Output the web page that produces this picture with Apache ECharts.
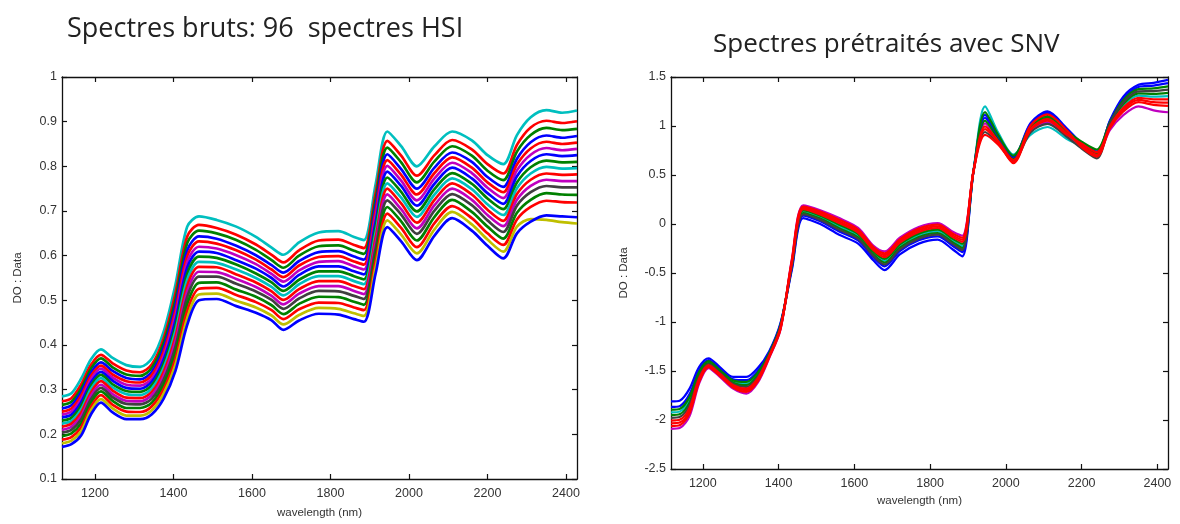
<!DOCTYPE html>
<html>
<head>
<meta charset="utf-8">
<title>Spectres HSI</title>
<script src="https://cdn.jsdelivr.net/npm/echarts@6/dist/echarts.min.js"></script>
<style>
  html, body { margin: 0; padding: 0; background: #fff; }
  #chart { width: 1180px; height: 524px; }
</style>
</head>
<body>
<div id="chart"></div>
<script>
const wavelengths = [1116, 1140, 1165, 1190, 1215, 1245, 1280, 1315, 1345, 1375, 1405, 1435, 1465, 1510, 1560, 1610, 1650, 1680, 1720, 1770, 1820, 1860, 1885, 1915, 1945, 1980, 2020, 2065, 2110, 2160, 2200, 2240, 2275, 2310, 2350, 2390, 2428];
const xTicks = [1200, 1400, 1600, 1800, 2000, 2200, 2400];

// raw spectra (DO), top of the band to bottom
const raw01 = [.285, .292, .325, .368, .390, .371, .355, .351, .370, .430, .535, .665, .688, .680, .665, .642, .618, .602, .630, .652, .655, .642, .635, .760, .878, .845, .800, .845, .878, .858, .825, .805, .870, .910, .926, .920, .925];
const raw02 = [.274, .281, .312, .356, .378, .359, .343, .339, .357, .415, .516, .643, .669, .662, .647, .625, .602, .585, .612, .634, .636, .624, .617, .740, .857, .824, .779, .825, .859, .838, .805, .784, .848, .887, .902, .897, .901];
const raw03 = [.266, .273, .303, .347, .370, .350, .334, .331, .349, .405, .502, .628, .656, .650, .635, .613, .590, .573, .600, .621, .623, .611, .604, .726, .842, .809, .764, .811, .845, .824, .790, .769, .833, .870, .886, .881, .884];
const raw04 = [.258, .265, .295, .338, .361, .342, .326, .323, .340, .394, .489, .612, .643, .638, .622, .601, .579, .562, .588, .608, .610, .598, .591, .712, .827, .794, .750, .797, .831, .810, .776, .754, .817, .854, .869, .864, .868];
const raw05 = [.251, .258, .287, .331, .354, .334, .319, .316, .333, .385, .477, .599, .632, .627, .612, .591, .569, .552, .578, .597, .599, .587, .580, .700, .814, .781, .737, .785, .820, .797, .764, .742, .804, .840, .855, .850, .853];
const raw06 = [.244, .251, .279, .324, .347, .327, .311, .309, .325, .376, .466, .586, .620, .616, .601, .581, .559, .542, .567, .586, .588, .576, .569, .688, .801, .768, .724, .773, .808, .785, .752, .729, .791, .826, .841, .836, .839];
const raw07 = [.238, .244, .272, .316, .340, .320, .304, .302, .318, .367, .454, .573, .609, .606, .590, .571, .550, .531, .557, .576, .576, .565, .558, .676, .788, .756, .712, .761, .797, .773, .740, .716, .778, .812, .827, .823, .825];
const raw08 = [.231, .237, .264, .309, .333, .312, .297, .295, .310, .358, .442, .559, .598, .595, .580, .560, .540, .521, .546, .565, .565, .554, .547, .664, .775, .743, .699, .749, .785, .761, .728, .704, .764, .798, .813, .809, .810];
const raw09 = [.224, .230, .256, .302, .326, .305, .290, .288, .303, .349, .431, .546, .586, .584, .569, .550, .530, .511, .536, .554, .554, .543, .536, .652, .762, .730, .687, .737, .773, .749, .715, .691, .751, .784, .799, .795, .796];
const raw10 = [.217, .224, .249, .294, .319, .298, .282, .281, .295, .340, .419, .533, .575, .574, .558, .540, .520, .501, .525, .543, .543, .532, .525, .640, .750, .717, .674, .725, .762, .737, .703, .678, .738, .770, .784, .781, .782];
const raw11 = [.210, .217, .241, .287, .311, .290, .275, .274, .288, .331, .408, .520, .564, .563, .548, .530, .510, .491, .515, .532, .532, .521, .514, .628, .737, .704, .661, .713, .750, .725, .691, .666, .725, .756, .770, .767, .767];
const raw12 = [.204, .210, .234, .279, .304, .283, .268, .267, .280, .322, .396, .507, .553, .553, .537, .520, .501, .481, .504, .521, .520, .510, .503, .616, .724, .692, .649, .701, .738, .713, .679, .653, .712, .742, .756, .753, .753];
const raw13 = [.196, .202, .225, .271, .296, .275, .259, .259, .271, .312, .383, .491, .539, .540, .524, .508, .489, .469, .492, .508, .507, .497, .490, .602, .709, .677, .634, .687, .725, .698, .665, .638, .696, .725, .740, .737, .736];
const raw14 = [.188, .194, .216, .262, .288, .266, .251, .250, .263, .301, .369, .476, .526, .528, .512, .496, .478, .458, .480, .495, .494, .484, .478, .588, .694, .662, .619, .673, .711, .684, .650, .624, .681, .709, .723, .720, .719];
const raw15 = [.180, .186, .207, .254, .279, .258, .242, .242, .254, .291, .356, .460, .513, .515, .499, .484, .466, .446, .467, .483, .481, .471, .465, .574, .679, .647, .605, .659, .698, .670, .636, .609, .665, .682, .680, .675, .672];
const raw16 = [.172, .178, .198, .245, .271, .249, .234, .234, .245, .280, .342, .445, .500, .503, .487, .472, .455, .434, .455, .470, .468, .458, .452, .560, .664, .632, .590, .645, .684, .656, .622, .594, .650, .676, .690, .688, .686];

// SNV pretreated spectra
const snv01 = [-1.81, -1.80, -1.68, -1.46, -1.37, -1.46, -1.56, -1.56, -1.47, -1.30, -1.01, -0.47, 0.06, 0.00, -0.11, -0.20, -0.37, -0.47, -0.31, -0.20, -0.16, -0.26, -0.33, 0.55, 1.084, 0.882, 0.675, 1.018, 1.134, 0.969, 0.812, 0.724, 1.06, 1.30, 1.42, 1.44, 1.47];
const snv02 = [-2.09, -2.08, -1.96, -1.63, -1.47, -1.56, -1.68, -1.73, -1.62, -1.37, -1.08, -0.36, 0.19, 0.14, 0.06, -0.04, -0.22, -0.28, -0.14, -0.03, 0.01, -0.08, -0.12, 0.55, 1.026, 0.858, 0.686, 0.946, 1.038, 0.903, 0.805, 0.715, 0.96, 1.11, 1.20, 1.16, 1.14];
const snv03 = [-1.922, -1.912, -1.792, -1.528, -1.41, -1.50, -1.608, -1.628, -1.53, -1.328, -1.038, -0.415, 0.125, 0.07, -0.025, -0.12, -0.295, -0.375, -0.225, -0.115, -0.075, -0.17, -0.225, 0.56, 1.20, 0.93, 0.708, 0.91, 0.99, 0.87, 0.791, 0.697, 1.01, 1.205, 1.31, 1.30, 1.305];
const snv04 = [-2.062, -2.052, -1.932, -1.613, -1.46, -1.55, -1.668, -1.713, -1.605, -1.363, -1.073, -0.371, 0.177, 0.126, 0.043, -0.056, -0.235, -0.299, -0.157, -0.047, -0.007, -0.098, -0.141, 0.54, 0.968, 0.834, 0.62, 0.958, 1.054, 0.914, 0.819, 0.733, 0.99, 1.167, 1.266, 1.244, 1.239];
const snv05 = [-1.95, -1.94, -1.82, -1.545, -1.42, -1.51, -1.62, -1.645, -1.545, -1.335, -1.045, -0.404, 0.138, 0.084, -0.008, -0.104, -0.28, -0.356, -0.208, -0.098, -0.058, -0.152, -0.204, 0.55, 1.055, 0.87, 0.664, 0.982, 1.086, 0.936, 0.805, 0.715, 1.02, 1.224, 1.332, 1.328, 1.338];
const snv06 = [-2.006, -1.996, -1.876, -1.579, -1.44, -1.53, -1.644, -1.679, -1.575, -1.349, -1.059, -0.382, 0.164, 0.112, 0.026, -0.072, -0.25, -0.318, -0.174, -0.064, -0.024, -0.116, -0.162, 0.55, 0.997, 0.846, 0.653, 0.97, 1.07, 0.925, 0.798, 0.706, 1.00, 1.186, 1.288, 1.272, 1.272];
const snv07 = [-1.866, -1.856, -1.736, -1.494, -1.39, -1.48, -1.584, -1.594, -1.50, -1.314, -1.024, -0.448, 0.086, 0.028, -0.076, -0.168, -0.34, -0.432, -0.276, -0.166, -0.126, -0.224, -0.288, 0.55, 1.113, 0.894, 0.686, 1.03, 1.15, 0.98, 0.826, 0.742, 1.05, 1.281, 1.398, 1.412, 1.437];
const snv08 = [-1.894, -1.884, -1.764, -1.511, -1.40, -1.49, -1.596, -1.611, -1.515, -1.321, -1.031, -0.426, 0.112, 0.056, -0.042, -0.136, -0.31, -0.394, -0.242, -0.132, -0.092, -0.188, -0.246, 0.55, 1.142, 0.906, 0.697, 0.994, 1.102, 0.947, 0.84, 0.76, 1.04, 1.262, 1.376, 1.384, 1.404];
const snv09 = [-1.978, -1.968, -1.848, -1.562, -1.43, -1.52, -1.632, -1.662, -1.56, -1.342, -1.052, -0.437, 0.099, 0.042, -0.059, -0.152, -0.325, -0.413, -0.259, -0.149, -0.109, -0.206, -0.267, 0.55, 0.939, 0.822, 0.642, 0.934, 1.022, 0.892, 0.77, 0.67, 1.03, 1.243, 1.354, 1.356, 1.371];
const snv10 = [-2.034, -2.024, -1.904, -1.596, -1.45, -1.54, -1.656, -1.696, -1.59, -1.356, -1.066, -0.393, 0.151, 0.098, 0.009, -0.088, -0.265, -0.337, -0.191, -0.081, -0.041, -0.134, -0.183, 0.55, 0.91, 0.81, 0.631, 1.006, 1.118, 0.958, 0.784, 0.688, 0.98, 1.148, 1.244, 1.216, 1.206];

const rawSpectra = [raw01, raw02, raw03, raw04, raw05, raw06, raw07, raw08, raw09, raw10, raw11, raw12, raw13, raw14, raw15, raw16];
const snvSpectra = [snv01, snv02, snv03, snv05, snv07, snv08, snv09, snv06, snv10, snv04];

// old matlab line colours
const B = "#0000ff", G = "#008000", R = "#ff0000", C = "#00bfbf", M = "#bf00bf", Y = "#bfbf00", K = "#404040";
const rawColors = [C, R, G, B, R, M, B, G, C, R, M, K, G, R, Y, B];
const snvColors = [B, M, C, G, B, G, K, R, R, R];

const axisColor = "#111";
const labelStyle = { color: "#333", fontSize: 12.5, fontFamily: "Liberation Sans, Arial, sans-serif" };
const nameStyle = { color: "#333", fontSize: 11.5, fontFamily: "Liberation Sans, Arial, sans-serif" };

function toPoints(values) {
  return wavelengths.map((w, i) => [w, values[i]]);
}

function xAxes(gridIndex, nameGap) {
  const base = {
    gridIndex,
    type: "value",
    min: 1116,
    max: 2428,
    axisLine: { show: true, onZero: false, lineStyle: { color: axisColor, width: 1.3 } },
    axisTick: { show: true, inside: true, length: 5, customValues: xTicks, lineStyle: { color: axisColor, width: 1.2 } },
    splitLine: { show: false },
  };
  return [
    {
      ...base,
      position: "bottom",
      axisLabel: { ...labelStyle, margin: 8, customValues: xTicks, formatter: (v) => String(v) },
      name: "wavelength (nm)",
      nameLocation: "middle",
      nameGap,
      nameTextStyle: nameStyle,
    },
    { ...base, position: "top", axisLabel: { show: false } },
  ];
}

function yAxes(gridIndex, min, max, interval, nameGap) {
  const base = {
    gridIndex,
    type: "value",
    min,
    max,
    interval,
    axisLine: { show: true, onZero: false, lineStyle: { color: axisColor, width: 1.3 } },
    axisTick: { show: true, inside: true, length: 5, lineStyle: { color: axisColor, width: 1.2 } },
    splitLine: { show: false },
  };
  return [
    {
      ...base,
      position: "left",
      axisLabel: { ...labelStyle, margin: 5 },
      name: "DO : Data",
      nameLocation: "middle",
      nameGap,
      nameRotate: 90,
      nameTextStyle: nameStyle,
    },
    { ...base, position: "right", axisLabel: { show: false } },
  ];
}

function buildSeries(spectra, colors, xAxisIndex, yAxisIndex, width) {
  return spectra.map((values, i) => ({
    type: "line",
    xAxisIndex,
    yAxisIndex,
    data: toPoints(values),
    smooth: 0.3,
    showSymbol: false,
    silent: true,
    lineStyle: { width, color: colors[i] },
  }));
}

const chart = echarts.init(document.getElementById("chart"), null, { renderer: "canvas" });
chart.setOption({
  animation: false,
  backgroundColor: "#fff",
  title: [
    {
      text: "Spectres bruts: 96  spectres HSI",
      left: 62,
      top: 11,
      textStyle: { fontSize: 27, fontWeight: "normal", color: "#222", fontFamily: "Open Sans, sans-serif" },
    },
    {
      text: "Spectres prétraités avec SNV",
      left: 708,
      top: 27,
      textStyle: { fontSize: 26, fontWeight: "normal", color: "#222", fontFamily: "Open Sans, sans-serif" },
    },
  ],
  grid: [
    { left: 62, top: 77, width: 515, height: 405 },
    { left: 671, top: 77, width: 497, height: 392 },
  ],
  xAxis: [...xAxes(0, 28), ...xAxes(1, 26)],
  yAxis: [...yAxes(0, 0.1, 1, 0.1, 38), ...yAxes(1, -2.5, 1.5, 0.5, 41)],
  series: [
    ...buildSeries(rawSpectra, rawColors, 0, 0, 2.7),
    ...buildSeries(snvSpectra, snvColors, 2, 2, 2.2),
  ],
});
</script>
</body>
</html>
